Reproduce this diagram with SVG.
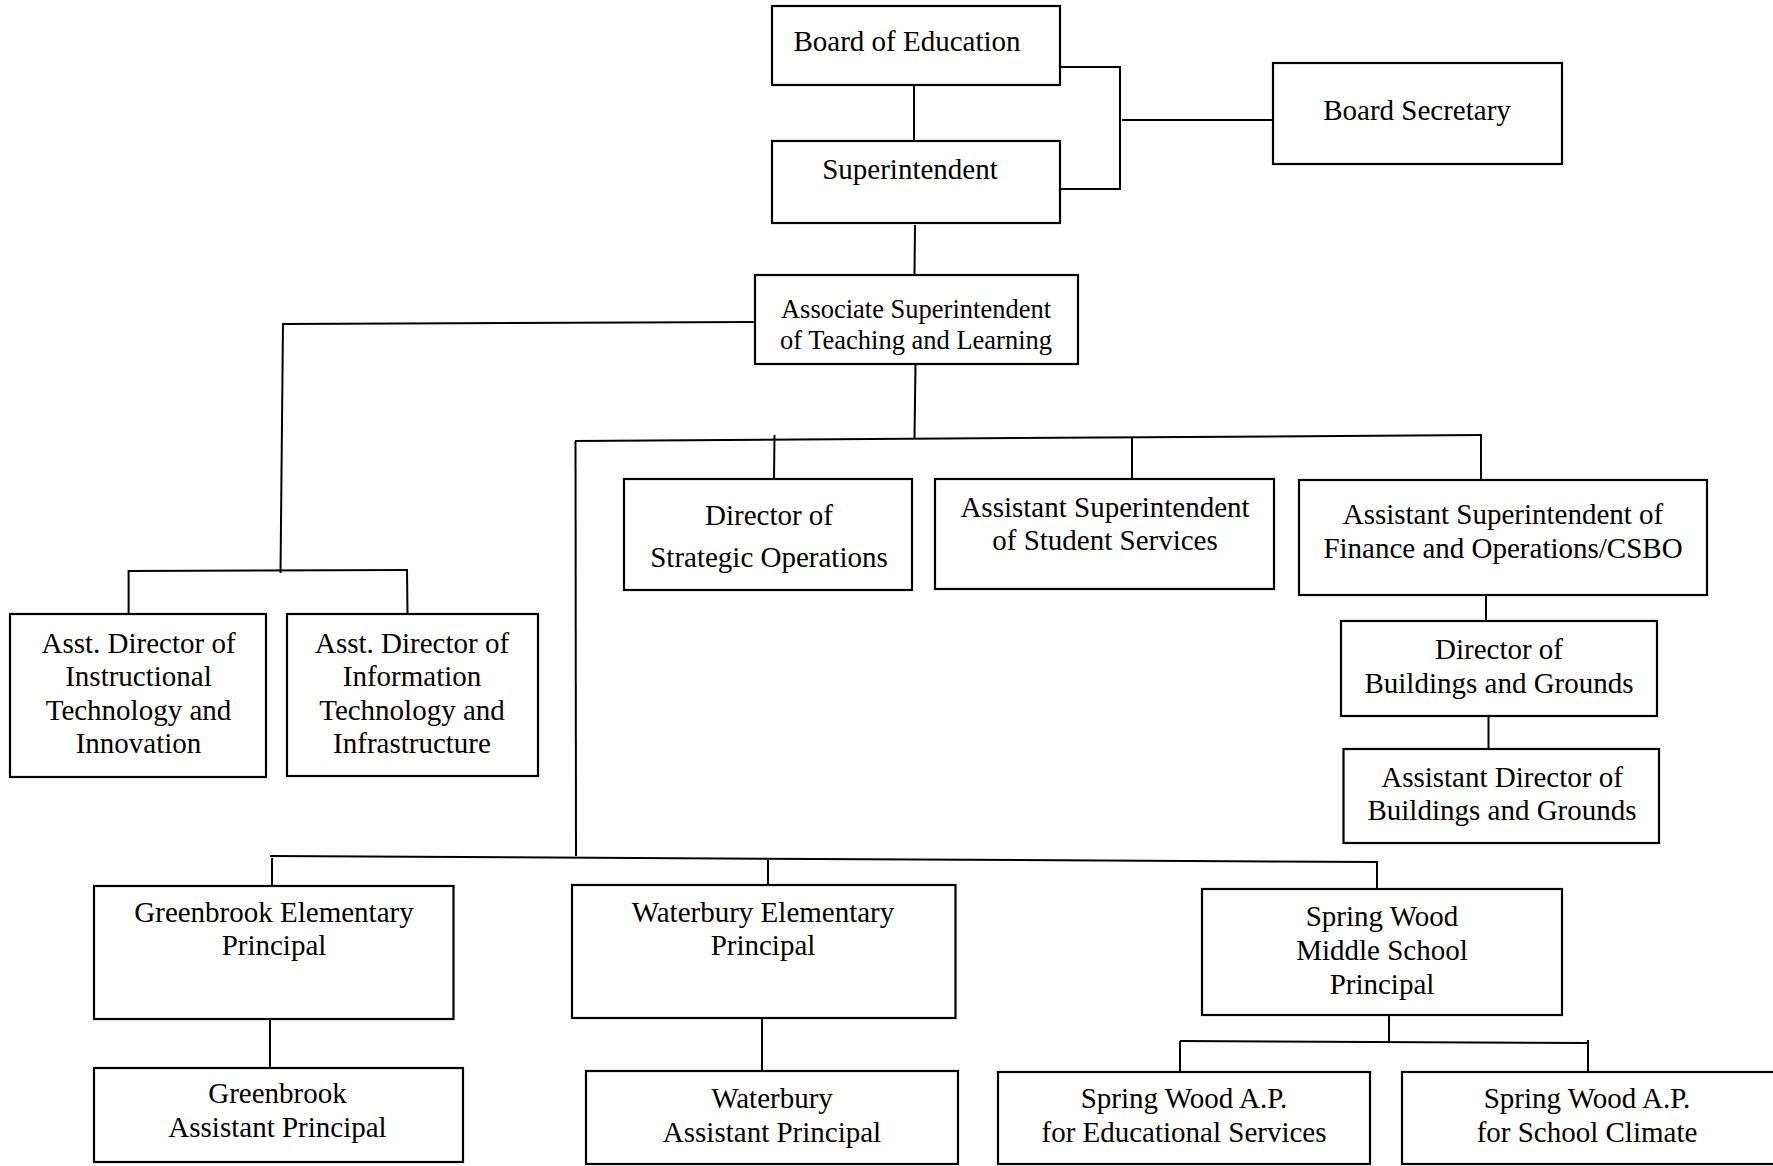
<svg xmlns="http://www.w3.org/2000/svg" width="1773" height="1166" viewBox="0 0 1773 1166">
<style>
rect{fill:#fff;stroke:#000;stroke-width:2.2}
line,polyline{stroke:#000;stroke-width:2;fill:none}
text{font-family:"Liberation Serif","Times New Roman",serif;font-size:29px;fill:#000;text-anchor:middle}
.s{font-size:26.5px}
</style>
<rect x="0" y="0" width="1773" height="1166" style="stroke:none;fill:#fff"/>
<g id="connectors">
<line x1="914" y1="85" x2="914" y2="141"/>
<polyline points="1060,67 1120,67 1120,189 1058,189"/>
<line x1="1122" y1="120" x2="1273" y2="120"/>
<line x1="915" y1="225" x2="914.5" y2="275"/>
<line x1="754" y1="322" x2="283" y2="324"/>
<line x1="283" y1="323" x2="280.5" y2="573"/>
<line x1="128.6" y1="571" x2="407" y2="570"/>
<line x1="128.6" y1="570" x2="128.6" y2="614"/>
<line x1="407" y1="569" x2="407.5" y2="614"/>
<line x1="915.5" y1="364" x2="914.5" y2="438"/>
<line x1="575" y1="441" x2="1482" y2="435"/>
<line x1="774.5" y1="435" x2="774" y2="479"/>
<line x1="1132" y1="437" x2="1132" y2="479"/>
<line x1="1481" y1="435" x2="1481" y2="480"/>
<line x1="1486" y1="595" x2="1486" y2="621"/>
<line x1="1488.5" y1="716" x2="1488.5" y2="749"/>
<line x1="575.5" y1="441" x2="576" y2="856"/>
<line x1="270" y1="856" x2="1378" y2="862"/>
<line x1="272" y1="858" x2="272" y2="886"/>
<line x1="768" y1="860" x2="768" y2="885"/>
<line x1="1377" y1="862" x2="1377" y2="889"/>
<line x1="270" y1="1019" x2="270" y2="1068"/>
<line x1="762" y1="1018" x2="762" y2="1071"/>
<line x1="1389" y1="1015" x2="1389" y2="1041"/>
<line x1="1180" y1="1041" x2="1589" y2="1043"/>
<line x1="1180" y1="1041" x2="1180" y2="1072"/>
<line x1="1588" y1="1040" x2="1588" y2="1072"/>
</g>
<g id="board"><rect x="772" y="6" width="288" height="79"/><text x="907" y="51">Board of Education</text></g>
<g id="superintendent"><rect x="772" y="141" width="288" height="82"/><text x="910" y="179">Superintendent</text></g>
<g id="secretary"><rect x="1273" y="63" width="289" height="101"/><text x="1417" y="120">Board Secretary</text></g>
<g id="assoc"><rect x="755" y="275" width="323" height="89"/><text class="s" x="916" y="318">Associate Superintendent</text><text class="s" x="916" y="349">of Teaching and Learning</text></g>
<g id="strategic"><rect x="624" y="479" width="288" height="111"/><text x="769" y="525">Director of</text><text x="769" y="567">Strategic Operations</text></g>
<g id="student"><rect x="935" y="479" width="339" height="110"/><text x="1105" y="517">Assistant Superintendent</text><text x="1105" y="550">of Student Services</text></g>
<g id="csbo"><rect x="1299" y="480" width="408" height="115"/><text x="1503" y="524">Assistant Superintendent of</text><text x="1503" y="558">Finance and Operations/CSBO</text></g>
<g id="dirbg"><rect x="1341" y="621" width="316" height="95"/><text x="1499" y="659">Director of</text><text x="1499" y="693">Buildings and Grounds</text></g>
<g id="asstdirbg"><rect x="1343.5" y="749" width="315.5" height="94"/><text x="1502" y="787">Assistant Director of</text><text x="1502" y="820">Buildings and Grounds</text></g>
<g id="instr"><rect x="10" y="614" width="256" height="163"/><text x="138.5" y="653">Asst. Director of</text><text x="138.5" y="686">Instructional</text><text x="138.5" y="720">Technology and</text><text x="138.5" y="753">Innovation</text></g>
<g id="info"><rect x="287" y="614" width="251" height="162"/><text x="412" y="653">Asst. Director of</text><text x="412" y="686">Information</text><text x="412" y="720">Technology and</text><text x="412" y="753">Infrastructure</text></g>
<g id="greenbrook"><rect x="94" y="886" width="359.5" height="133"/><text x="274" y="922">Greenbrook Elementary</text><text x="274" y="955">Principal</text></g>
<g id="waterbury"><rect x="572" y="885" width="383.5" height="133"/><text x="763" y="922">Waterbury Elementary</text><text x="763" y="955">Principal</text></g>
<g id="springwood"><rect x="1202" y="889" width="360" height="126"/><text x="1382" y="926">Spring Wood</text><text x="1382" y="960">Middle School</text><text x="1382" y="994">Principal</text></g>
<g id="greenbrook-ap"><rect x="94" y="1068" width="369" height="94"/><text x="277.5" y="1103">Greenbrook</text><text x="277.5" y="1137">Assistant Principal</text></g>
<g id="waterbury-ap"><rect x="586" y="1071" width="372" height="93"/><text x="772" y="1108">Waterbury</text><text x="772" y="1142">Assistant Principal</text></g>
<g id="sw-ap-ed"><rect x="998" y="1072" width="372" height="92"/><text x="1184" y="1108">Spring Wood A.P.</text><text x="1184" y="1142">for Educational Services</text></g>
<g id="sw-ap-climate"><rect x="1402" y="1072" width="390" height="92"/><text x="1587" y="1108">Spring Wood A.P.</text><text x="1587" y="1142">for School Climate</text></g>
</svg>
